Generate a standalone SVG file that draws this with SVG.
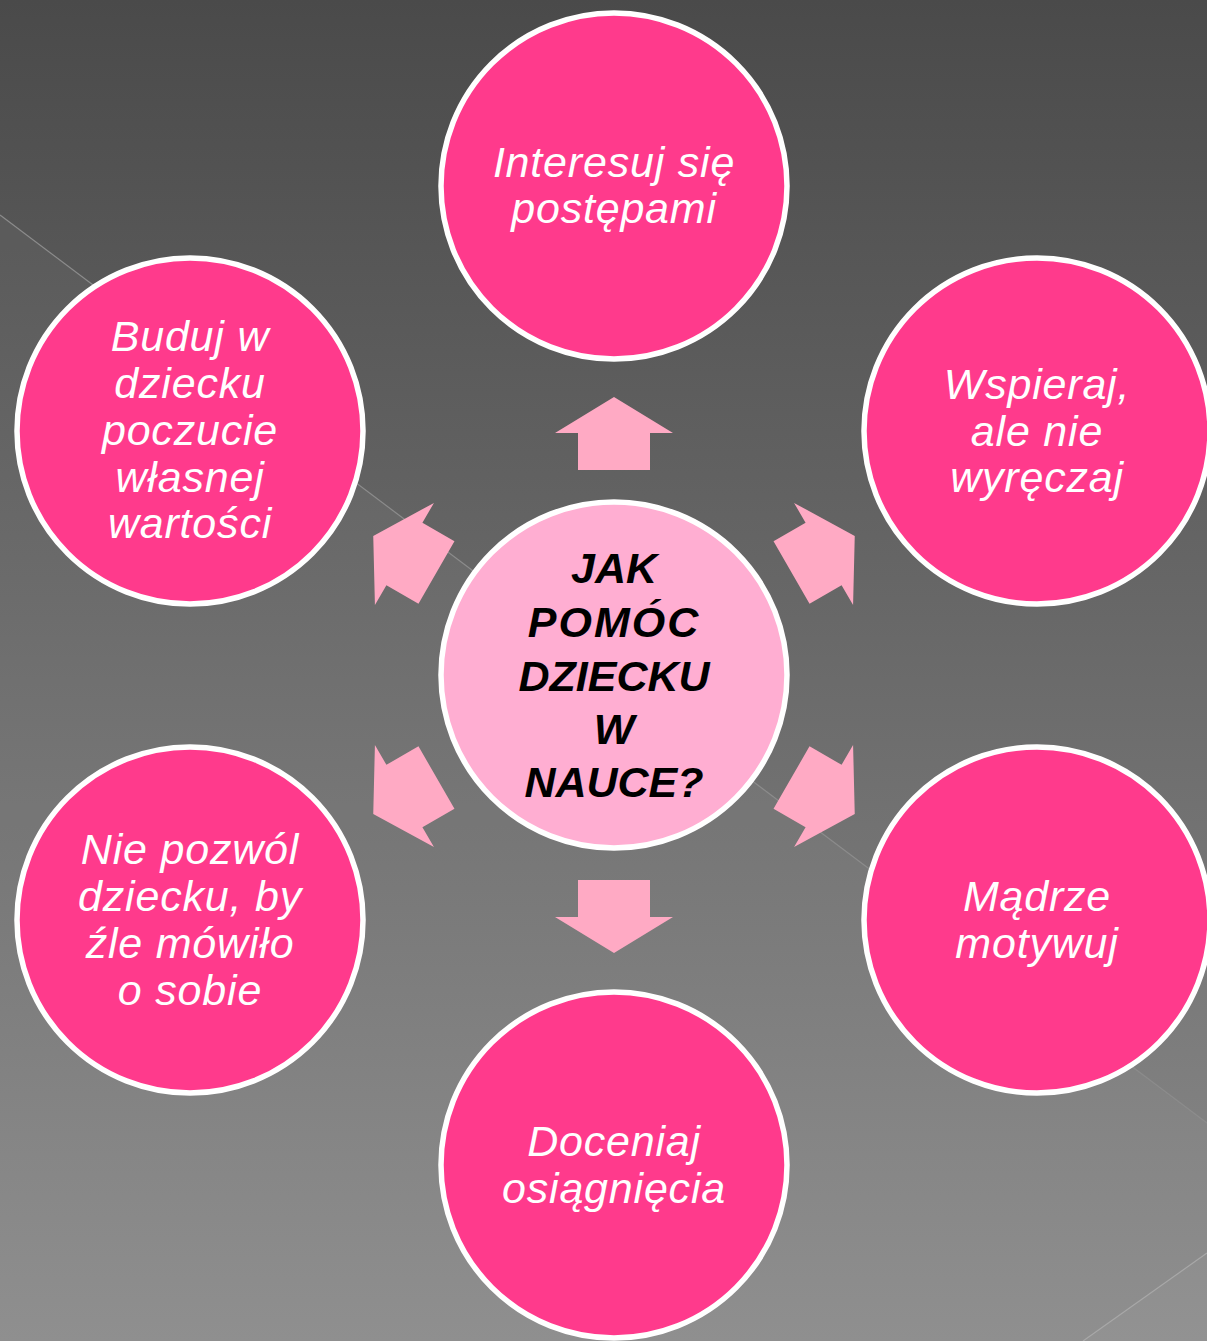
<svg xmlns="http://www.w3.org/2000/svg" width="1207" height="1341" viewBox="0 0 1207 1341">
<defs>
<linearGradient id="bg" x1="0" y1="0" x2="0" y2="1">
<stop offset="0" stop-color="#4a4a4a"/>
<stop offset="1" stop-color="#8b8b8b"/>
</linearGradient>
<polygon id="arrow" points="614,397 673,433 650,433 650,470 578,470 578,433 555,433"/>
</defs>
<style>
.node{fill:#ff3a8c;stroke:#ffffff;stroke-width:5.5}
.hub{fill:#ffaed2;stroke:#ffffff;stroke-width:5.5}
.lbl{font-family:"Liberation Sans",Arial,sans-serif;font-style:italic;font-size:43px;letter-spacing:0.8px;fill:#ffffff;text-anchor:middle}
.hubl{font-family:"Liberation Sans",Arial,sans-serif;font-style:italic;font-weight:bold;font-size:43px;fill:#000000;text-anchor:middle}
.arr{fill:#ffaac4}
</style>
<rect x="0" y="0" width="1207" height="1341" fill="url(#bg)"/>
<polygon points="0,215 1207,1123 1207,1341 0,1341" fill="#ffffff" fill-opacity="0.035"/>
<polygon points="1083,1341 1207,1253 1207,1341" fill="#ffffff" fill-opacity="0.03"/>
<line x1="0" y1="215" x2="1207" y2="1123" stroke="#8c8c8c" stroke-width="1.2"/>
<line x1="1083" y1="1341" x2="1207" y2="1253" stroke="#a8a8a8" stroke-width="1.2"/>
<g id="connectors">
<use href="#arrow" class="arr"/>
<use href="#arrow" class="arr" transform="rotate(60 614 675)"/>
<use href="#arrow" class="arr" transform="rotate(120 614 675)"/>
<use href="#arrow" class="arr" transform="rotate(180 614 675)"/>
<use href="#arrow" class="arr" transform="rotate(240 614 675)"/>
<use href="#arrow" class="arr" transform="rotate(300 614 675)"/>
</g>
<g id="center">
<circle class="hub" cx="614" cy="675" r="173"/>
<text class="hubl" x="614" y="583">JAK</text>
<text class="hubl" x="614" y="637" letter-spacing="2">POMÓC</text>
<text class="hubl" x="614" y="691">DZIECKU</text>
<text class="hubl" x="614" y="744">W</text>
<text class="hubl" x="614" y="797">NAUCE?</text>
</g>
<g id="n-top">
<circle class="node" cx="614" cy="186" r="173"/>
<text class="lbl" x="614" y="177">Interesuj się</text>
<text class="lbl" x="614" y="223">postępami</text>
</g>
<g id="n-upper-right">
<circle class="node" cx="1037" cy="431" r="173"/>
<text class="lbl" x="1037" y="399">Wspieraj,</text>
<text class="lbl" x="1037" y="446">ale nie</text>
<text class="lbl" x="1037" y="492">wyręczaj</text>
</g>
<g id="n-lower-right">
<circle class="node" cx="1037" cy="920" r="173"/>
<text class="lbl" x="1037" y="911">Mądrze</text>
<text class="lbl" x="1037" y="958">motywuj</text>
</g>
<g id="n-bottom">
<circle class="node" cx="614" cy="1165" r="173"/>
<text class="lbl" x="614" y="1156">Doceniaj</text>
<text class="lbl" x="614" y="1203">osiągnięcia</text>
</g>
<g id="n-lower-left">
<circle class="node" cx="190" cy="920" r="173"/>
<text class="lbl" x="190" y="864">Nie pozwól</text>
<text class="lbl" x="190" y="911">dziecku, by</text>
<text class="lbl" x="190" y="958">źle mówiło</text>
<text class="lbl" x="190" y="1005">o sobie</text>
</g>
<g id="n-upper-left">
<circle class="node" cx="190" cy="431" r="173"/>
<text class="lbl" x="190" y="351">Buduj w</text>
<text class="lbl" x="190" y="398">dziecku</text>
<text class="lbl" x="190" y="445">poczucie</text>
<text class="lbl" x="190" y="492">własnej</text>
<text class="lbl" x="190" y="538">wartości</text>
</g>
</svg>
